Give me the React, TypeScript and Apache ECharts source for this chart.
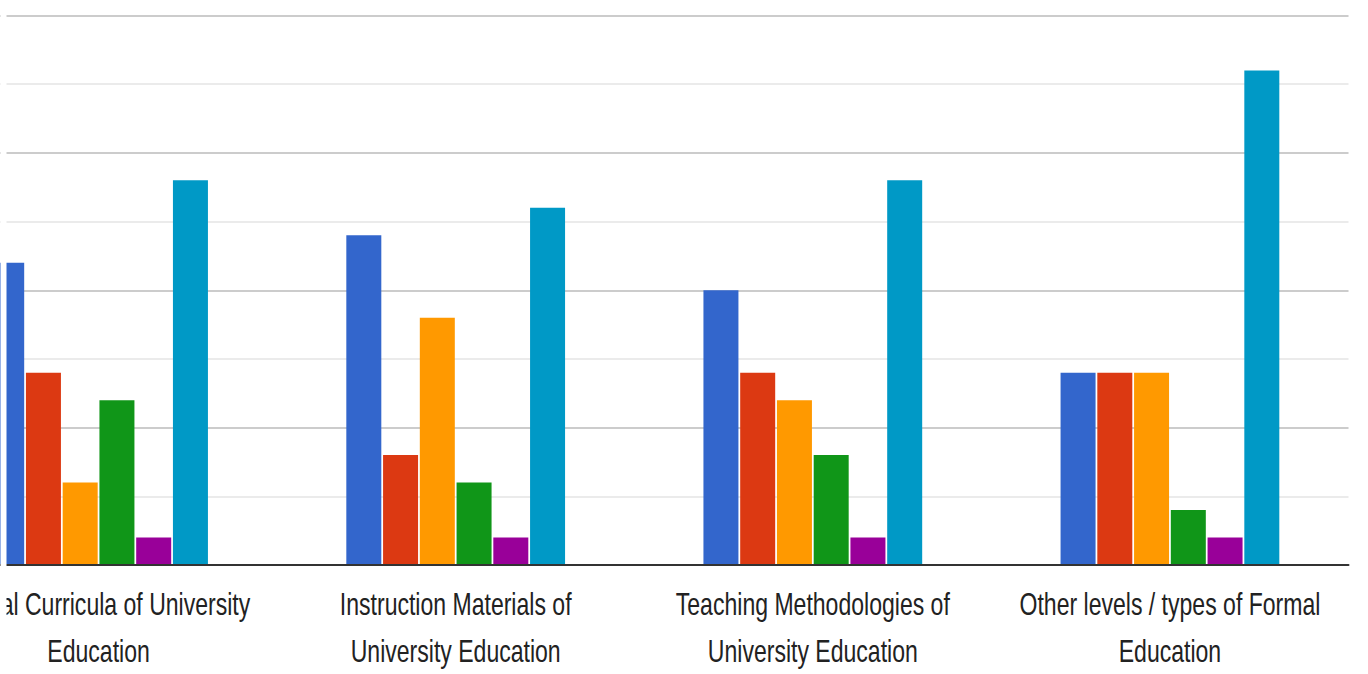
import React, { useEffect, useRef } from "react";
import * as echarts from "echarts";

const categories = [
  "Formal Curricula of University\nEducation",
  "Instruction Materials of\nUniversity Education",
  "Teaching Methodologies of\nUniversity Education",
  "Other levels / types of Formal\nEducation",
];
const seriesNames = ["Series 1", "Series 2", "Series 3", "Series 4", "Series 5", "Series 6"];
const seriesColors = ["#3366cc", "#dc3912", "#ff9900", "#109618", "#990099", "#0099c6"];
const s1 = [11, 12, 10, 7];
const s2 = [7, 4, 7, 7];
const s3 = [3, 9, 6, 7];
const s4 = [6, 3, 4, 2];
const s5 = [1, 1, 1, 1];
const s6 = [14, 13, 14, 18];
const seriesValues = [s1, s2, s3, s4, s5, s6];
const yMax = 20;
const yInterval = 5;

const OFFSET = 80.5; // the plot starts left of the visible page (cropped view)

export default function App() {
  const ref = useRef<HTMLDivElement>(null);
  useEffect(() => {
    if (!ref.current) return;
    const chart = echarts.init(ref.current, undefined, { renderer: "svg" });
    chart.setOption({
      animation: false,
      backgroundColor: "#ffffff",
      grid: { left: 0, right: 20.5, top: 15.5, bottom: 109, containLabel: false },
      xAxis: {
        type: "category",
        data: categories,
        axisLine: { show: true, lineStyle: { color: "#333333", width: 2 } },
        axisTick: { show: false },
        axisLabel: { show: false },
        z: 10,
      },
      yAxis: {
        type: "value",
        min: 0,
        max: yMax,
        interval: yInterval,
        axisLabel: { show: false },
        axisLine: { show: false },
        axisTick: { show: false },
        splitLine: { show: true, lineStyle: { color: "#cccccc", width: 2 } },
        minorTick: { show: false, splitNumber: 2 },
        minorSplitLine: { show: true, lineStyle: { color: "#ebebeb", width: 2 } },
      },
      series: seriesValues.map((vals, i) => ({
        name: seriesNames[i],
        type: "bar",
        data: vals,
        barWidth: 35,
        barGap: "5%",
        itemStyle: { color: seriesColors[i] },
      })),
    });
    const baseY = chart.convertToPixel({ yAxisIndex: 0 }, 0) as number;
    const labels = categories.map((c, i) => {
      const cx = chart.convertToPixel({ xAxisIndex: 0 }, i) as number;
      return {
        type: "text",
        x: cx,
        y: baseY + 15.5,
        scaleX: 0.72,
        z: 50,
        style: {
          text: c,
          x: 0,
          y: 0,
          fill: "#222222",
          font: "32px 'Liberation Sans', Arial, sans-serif",
          lineHeight: 47,
          textAlign: "center",
          textVerticalAlign: "top",
        },
      };
    });
    chart.setOption({
      graphic: [
        ...labels,
        {
          type: "rect",
          x: OFFSET,
          y: 0,
          shape: { width: 6, height: 674 },
          style: { fill: "#ffffff" },
          z: 100,
        },
      ],
    });
    return () => chart.dispose();
  }, []);
  return (
    <div
      ref={ref}
      style={{ position: "absolute", left: -OFFSET, top: 0, width: 1368 + OFFSET, height: 674 }}
    />
  );
}
